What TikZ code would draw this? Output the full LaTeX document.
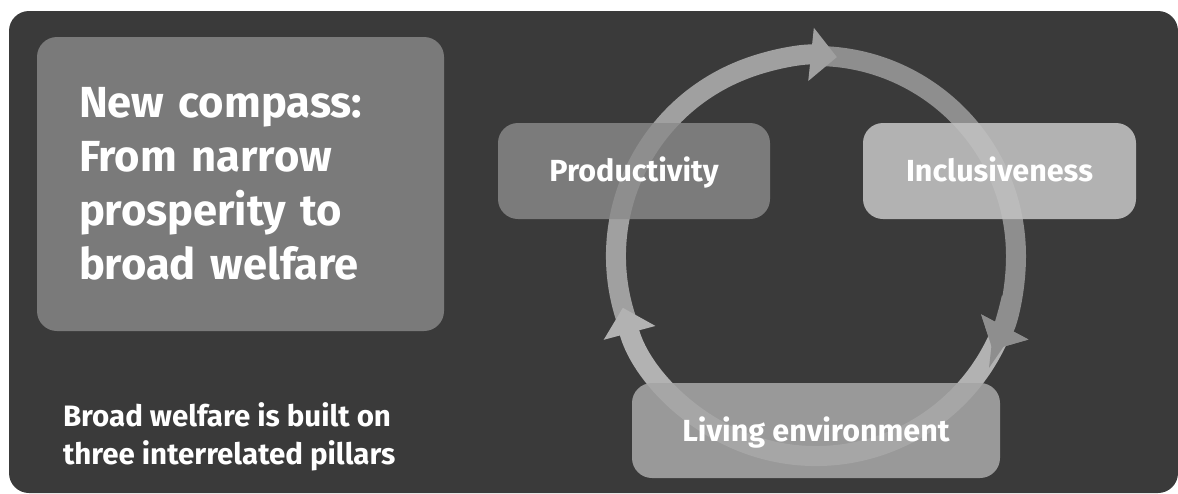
\documentclass[tikz,border=0pt]{standalone}
\usepackage{fontspec}
\setmainfont{Fira Sans}
\usepackage{tikz}
\usetikzlibrary{arrows.meta, positioning}
\definecolor{panelgray}{HTML}{3A3A3A}
\definecolor{titlegray}{HTML}{7A7A7A}
\definecolor{ringa}{HTML}{A0A0A0}
\definecolor{ringb}{HTML}{8E8E8E}
\definecolor{ringc}{HTML}{B2B2B2}
\definecolor{prodgray}{HTML}{8B8B8B}
\definecolor{inclgray}{HTML}{C1C1C1}
\definecolor{livinggray}{HTML}{A5A5A5}

\begin{document}
\begin{tikzpicture}[
    x=1pt, y=1pt,
    pill/.style={rectangle, rounded corners=20pt, minimum height=96pt, inner sep=0pt,
                 text=white, text opacity=1, font=\fontsize{30.5}{36}\selectfont\bfseries,
                 text height=21pt, text depth=0pt},
    ring/.style={line width=20pt, -{Triangle[width=52pt, length=26pt]}}
]
    \useasboundingbox (0,0) rectangle (1178,-493);
    \fill[white] (0,0) rectangle (1178,-493);
    \fill[panelgray, rounded corners=20pt] (9,-11) rectangle (1178,-493);

    % Title
    \node[rectangle, rounded corners=20pt, fill=titlegray, minimum width=407pt, minimum height=294pt,
          inner xsep=42pt, inner ysep=0pt, text width=323pt, align=left, text=white,
          font=\fontsize{43.5}{54}\selectfont\bfseries] (title) at (240.5,-184)
          {New compass:\\From narrow\\prosperity to\\broad welfare};
    \node[below right=71pt and 26pt of title.south west, inner sep=0pt, align=left, text=white,
          font=\fontsize{29.5}{38}\selectfont\bfseries] (caption)
          {Broad welfare is built on\\three interrelated pillars};

    % Cycle
    \coordinate (hub) at (816,-256);
    \draw[ring, ringb] ([shift={(91:200pt)}]hub) arc[start angle=91, end angle=-28, radius=200pt];
    \draw[ring, ringa] ([shift={(202:200pt)}]hub) arc[start angle=202, end angle=84, radius=200pt];
    \draw[ring, ringc] ([shift={(-21:200pt)}]hub) arc[start angle=-21, end angle=-165, radius=200pt];
    \draw[ring, ringb] ([shift={(-12:200pt)}]hub) arc[start angle=-12, end angle=-28, radius=200pt];

    % Pillars
    \node[pill, fill=prodgray, fill opacity=0.81, minimum width=272pt] (prod) at (634,-171) {Productivity};
    \node[pill, fill=inclgray, fill opacity=0.89, minimum width=273pt] (incl) at (999.5,-171) {Inclusiveness};
    \node[pill, fill=livinggray, fill opacity=0.89, minimum width=368pt, minimum height=95pt] (living)
          at (816,-430.5) {Living environment};
\end{tikzpicture}
\end{document}
